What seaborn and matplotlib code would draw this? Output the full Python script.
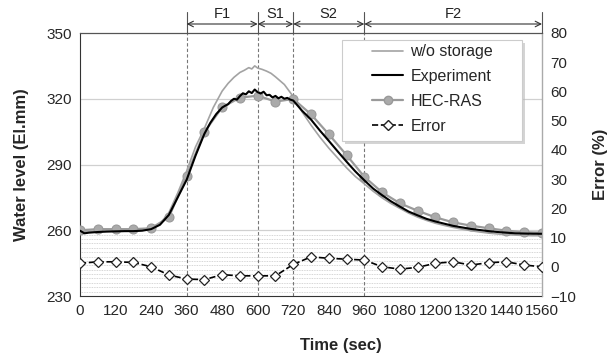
import numpy as np
import pandas as pd
import matplotlib
matplotlib.use('Agg')
import matplotlib.pyplot as plt
import seaborn as sns
from matplotlib.lines import Line2D
from matplotlib.patches import Rectangle

# --- data ---
hec_time = list(range(0, 1561, 60))
hec_level = [260.0, 260.5, 260.5, 260.5, 260.9, 265.9, 284.9, 304.8, 316.1, 320.5,
             321.4, 318.7, 319.9, 312.9, 303.8, 294.3, 284.4, 277.3, 272.3, 268.9,
             265.9, 263.6, 262.1, 260.9, 259.8, 259.1, 258.9]
error_pct = [1.2, 1.7, 1.7, 1.5, 0.0, -2.8, -4.2, -4.4, -2.7, -3.1,
             -3.1, -3.1, 0.8, 3.4, 2.9, 2.6, 2.3, 0.0, -0.8, -0.2,
             1.2, 1.7, 0.6, 1.4, 1.7, 0.6, 0.0]

exp_time = [0, 15, 30, 60, 90, 120, 150, 180, 210, 240, 270, 300, 330, 360, 390, 420,
            440, 460, 480, 490, 500, 510, 520, 530, 540, 550, 560, 570, 580, 590, 600,
            610, 620, 630, 640, 650, 660, 670, 680, 690, 700, 710, 720, 750, 780, 810,
            840, 870, 900, 930, 960, 990, 1020, 1050, 1080, 1110, 1140, 1170, 1200,
            1230, 1260, 1290, 1320, 1350, 1380, 1410, 1440, 1470, 1500, 1530, 1560]
exp_level = [259.8, 258.6, 258.9, 259.2, 259.4, 259.5, 259.6, 259.6, 259.8, 260.5, 262.5,
             267.0, 275.0, 283.0, 294.0, 304.0,
             309.0, 313.0, 316.0, 316.8, 317.5, 319.0, 320.0, 319.6, 321.2, 322.5, 322.0,
             323.4, 322.6, 324.2, 323.0, 322.4, 323.2, 321.6, 321.8, 320.6, 321.3, 320.2,
             320.9, 320.0, 320.4, 319.6, 319.2, 314.5, 310.5, 305.5,
             300.8, 296.0, 291.3, 286.8, 282.8, 279.0, 276.0, 273.2, 270.8, 268.5, 266.8,
             265.2, 264.0, 263.0, 262.0, 261.3, 260.6, 260.1, 259.6, 259.2, 258.9, 258.6,
             258.5, 258.4, 258.4]

wo_time = [0, 60, 120, 180, 240, 270, 300, 330, 360, 390, 420, 450, 480, 500, 520, 540,
           555, 570, 580, 590, 600, 615, 630, 645, 660, 690, 720, 750, 780, 810, 840,
           870, 900, 930, 960, 990, 1020, 1050, 1080, 1110, 1140, 1170, 1200, 1230,
           1260, 1290, 1320, 1350, 1380, 1410, 1440, 1470, 1500, 1530, 1560]
wo_level = [259.3, 259.4, 259.5, 259.6, 260.5, 263.0, 268.0, 277.0, 287.0, 298.0, 306.5,
            316.0, 323.5, 327.0, 329.8, 332.0, 333.0, 334.2, 333.6, 335.0, 334.0, 333.4,
            332.6, 331.6, 330.0, 326.5, 321.0, 314.0, 308.0, 302.5, 297.5, 293.0, 288.5,
            284.5, 281.2, 277.8, 274.8, 272.2, 270.0, 267.8, 266.0, 264.5, 263.2, 262.2,
            261.3, 260.5, 259.8, 259.2, 258.7, 258.3, 258.0, 257.8, 257.6, 257.5, 257.5]

phase_bounds = [360, 600, 720, 960, 1560]
phase_names = ['F1', 'S1', 'S2', 'F2']

x_ticks = list(range(0, 1561, 120))

sns.set_style('white')
plt.rcParams['font.family'] = ['Liberation Sans', 'DejaVu Sans']

W, H = 616, 361
fig = plt.figure(figsize=(W / 100, H / 100), dpi=100)
ax = fig.add_axes([80 / W, 1 - 296 / H, 462 / W, 263 / H])
ax2 = ax.twinx()

# grid
for v in [260, 290, 320]:
    ax.axhline(v, color='#d0d0d0', lw=0.9, zorder=0)
for v in range(232, 260, 2):
    ax.axhline(v, color='#c8c8c8', lw=0.6, ls=(0, (1, 1)), zorder=0)

c_wo = '#a3a3a3'
c_hec = '#9a9a9a'
sns.lineplot(x=wo_time, y=wo_level, ax=ax, color=c_wo, lw=1.2, zorder=3)
sns.lineplot(x=hec_time, y=hec_level, ax=ax, color=c_hec, lw=1.6, marker='o',
             markersize=6.5, markerfacecolor='#aaaaaa', markeredgecolor='#999999', zorder=3)
sns.lineplot(x=exp_time, y=exp_level, ax=ax, color='black', lw=1.5, zorder=4)
sns.lineplot(x=hec_time, y=error_pct, ax=ax2, color='black', lw=1.2, ls='--',
             marker='D', markersize=5, markerfacecolor='white', markeredgecolor='#222222',
             markeredgewidth=0.9, zorder=3)

ax.set_xlim(0, 1560)
ax.set_ylim(230, 350)
ax2.set_ylim(-10, 80)
ax.set_xticks(x_ticks)
ax.set_yticks(range(230, 351, 30))
ax2.set_yticks(range(-10, 81, 10))
ax.tick_params(length=0, labelsize=11, pad=6)
ax2.tick_params(length=0, labelsize=11, pad=6)

ax.set_xlabel('Time (sec)', fontsize=12, fontweight='bold')
ax.xaxis.set_label_coords(0.565, -0.16)
ax.set_ylabel('Water level (El.mm)', fontsize=12, fontweight='bold', labelpad=12)
ax2.set_ylabel('Error (%)', fontsize=12, fontweight='bold', labelpad=12)

for sp in ['left', 'bottom']:
    ax.spines[sp].set_color('#333333')
ax2.spines['top'].set_color('#555555')
ax2.spines['right'].set_color('#aaaaaa')
ax2.spines['left'].set_visible(False)
ax2.spines['bottom'].set_visible(False)

# phase markers
top_ext = 1 + 21 / 263
arrow_y = 1 + 9 / 263
text_y = 1 + 19 / 263
for b in phase_bounds[:-1]:
    ax.axvline(b, ymin=0, ymax=1, color='#777777', lw=0.8, ls=(0, (3, 2)), zorder=1)
for b in phase_bounds:
    ax.plot([b, b], [1, top_ext], transform=ax.get_xaxis_transform(), color='#555555',
            lw=0.8, clip_on=False)
for a, b, name in zip(phase_bounds[:-1], phase_bounds[1:], phase_names):
    ax.annotate('', xy=(b, arrow_y), xytext=(a, arrow_y),
                xycoords=ax.get_xaxis_transform(), textcoords=ax.get_xaxis_transform(),
                arrowprops=dict(arrowstyle='<->', color='#333333', lw=0.8,
                                shrinkA=0, shrinkB=0), annotation_clip=False)
    ax.text((a + b) / 2, text_y, name, transform=ax.get_xaxis_transform(),
            ha='center', va='center', fontsize=10.5, color='#222222')

# legend box with soft shadow, drawn in figure pixels
bx0, by0, bx1, by1 = 342, 40, 522, 141
fig.add_artist(Rectangle(((bx0 + 3) / W, 1 - (by1 + 3) / H), (bx1 - bx0) / W,
                         (by1 - by0) / H, transform=fig.transFigure,
                         fc='#b8b8b8', ec='none', alpha=0.6, zorder=4))
fig.add_artist(Rectangle((bx0 / W, 1 - by1 / H), (bx1 - bx0) / W, (by1 - by0) / H,
                         transform=fig.transFigure, fc='white', ec='#cccccc',
                         lw=0.8, zorder=4.5))

handles = [
    Line2D([], [], color=c_wo, lw=1.2),
    Line2D([], [], color='black', lw=1.5),
    Line2D([], [], color=c_hec, lw=1.6, marker='o', markersize=6,
           markerfacecolor='#aaaaaa', markeredgecolor='#999999'),
    Line2D([], [], color='black', lw=1.2, ls='--', marker='D', markersize=5,
           markerfacecolor='white', markeredgecolor='#222222'),
]
labels = ['w/o storage', 'Experiment', 'HEC-RAS', 'Error']
leg = fig.legend(handles, labels, loc='center left',
                 bbox_to_anchor=(372 / W, 1 - 89 / H), bbox_transform=fig.transFigure,
                 fontsize=11.5, frameon=False, handlelength=1.95, handletextpad=0.45,
                 borderpad=0, borderaxespad=0, labelspacing=0.62)
leg.set_zorder(6)

fig.savefig('out.png', dpi=100)
